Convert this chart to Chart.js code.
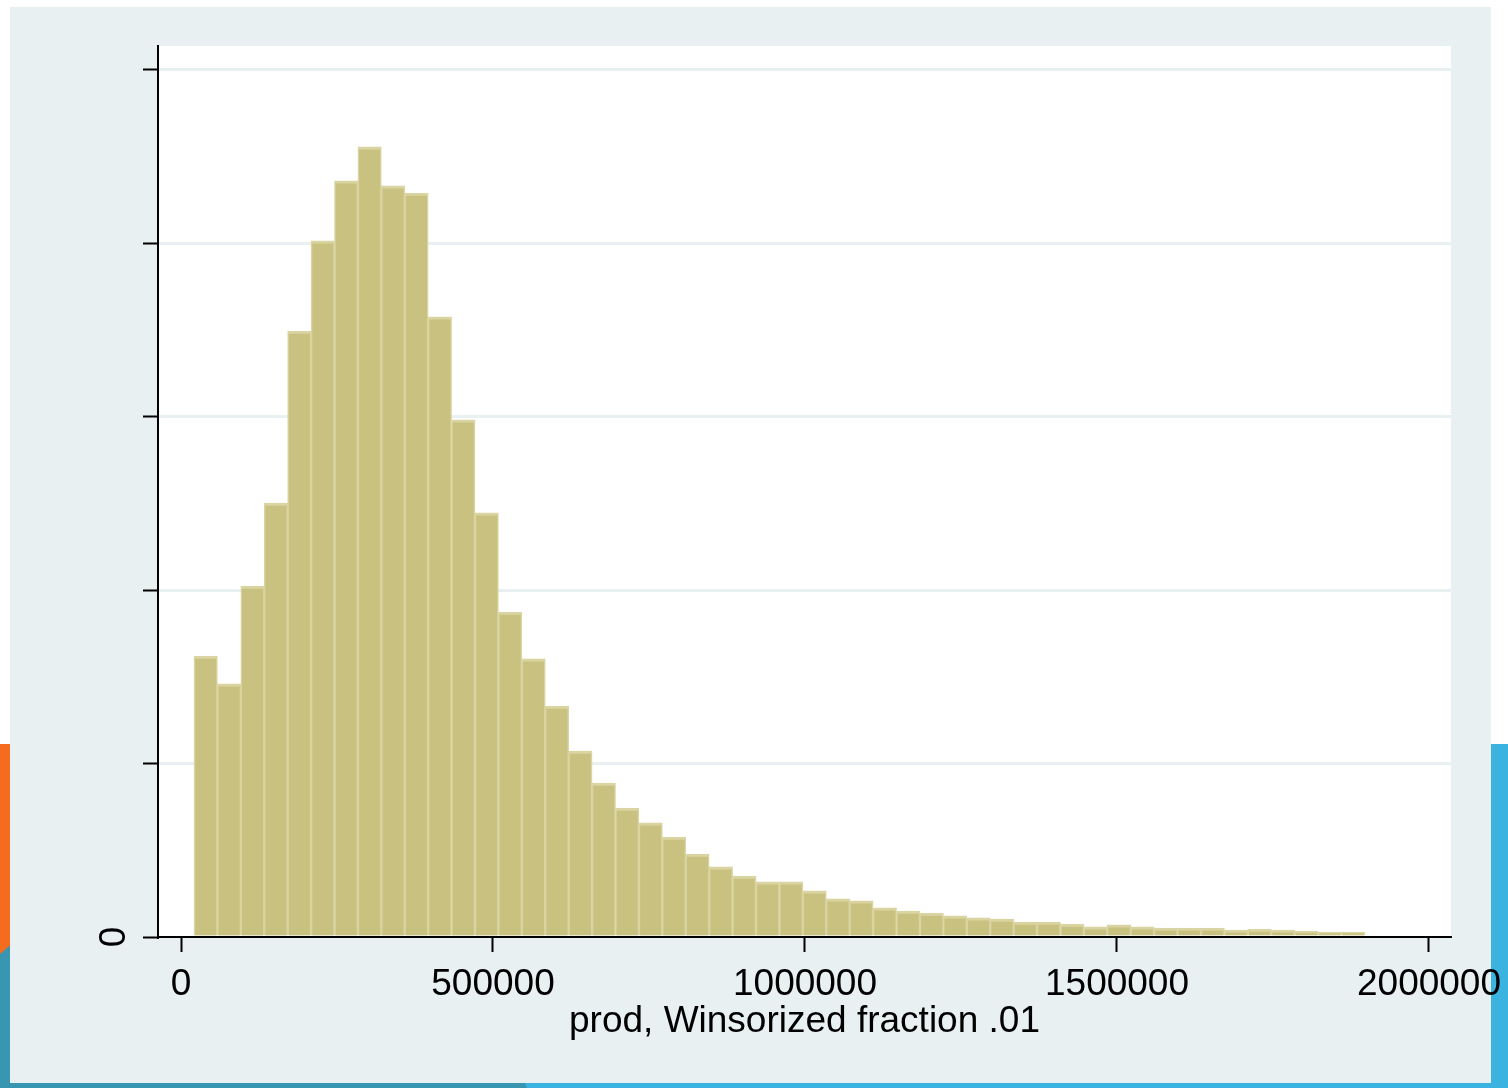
<!DOCTYPE html>
<html>
<head>
<meta charset="utf-8">
<script src="https://cdn.jsdelivr.net/npm/chart.js@4.4.1/dist/chart.umd.min.js"></script>
<style>
  html, body { margin:0; padding:0; background:#ffffff; width:1508px; height:1088px; overflow:hidden; }
  body { position:relative; }
  .abs { position:absolute; }
  #tealLeft { left:0; top:900px; width:10px; height:188px; background:#3996b0; }
  #orange { left:0; top:744px; width:10px; height:210px; background:#f56b20; clip-path:polygon(0 0,100% 0,100% 96%,0 100%); }
  #blueRight { left:1491px; top:744px; width:17px; height:344px; background:#3bb3e0; }
  #bottomBlue { left:520px; top:1083px; width:988px; height:5px; background:#3bb3e0; }
  #bottomTeal { left:0; top:1083px; width:527px; height:5px; background:#3996b0; clip-path:polygon(0 0,525px 0,527px 100%,0 100%); }
  #panel { left:10px; top:7px; width:1481px; height:1076px; background:#e8f0f2; }
  #chart { position:absolute; left:0; top:0; }
</style>
</head>
<body>
<div id="tealLeft" class="abs"></div>
<div id="orange" class="abs"></div>
<div id="blueRight" class="abs"></div>
<div id="bottomBlue" class="abs"></div>
<div id="bottomTeal" class="abs"></div>
<div id="panel" class="abs"></div>
<canvas id="chart" width="1508" height="1088"></canvas>
<script>
// Histogram of prod (Winsorized fraction .01): 50 bins, density in units of 1e-6
const binStart = 20800;      // left edge of first bin
const binWidth = 37530;      // width of each bin
const density = [
  0.810, 0.730, 1.012, 1.251, 1.747, 2.007, 2.180, 2.278, 2.166, 2.145,
  1.788, 1.491, 1.223, 0.937, 0.802, 0.666, 0.536, 0.444, 0.372, 0.329,
  0.288, 0.239, 0.202, 0.176, 0.159, 0.159, 0.133, 0.110, 0.104, 0.084,
  0.075, 0.069, 0.061, 0.055, 0.052, 0.043, 0.043, 0.037, 0.029, 0.035,
  0.029, 0.026, 0.026, 0.026, 0.020, 0.023, 0.020, 0.017, 0.014, 0.014
];
const xTickValues = [0, 500000, 1000000, 1500000, 2000000];
const yTickValues = [0, 0.5, 1, 1.5, 2, 2.5];
const xTitle = 'prod, Winsorized fraction .01';

const points = density.map((d, i) => ({ x: binStart + (i + 0.5) * binWidth, y: d }));

const FONT = { family: '"Liberation Sans", Arial, Helvetica, sans-serif', size: 37 };

const plotBg = {
  id: 'plotBg',
  beforeDraw(chart) {
    const { ctx, chartArea: a } = chart;
    ctx.save();
    ctx.fillStyle = '#ffffff';
    ctx.fillRect(a.left, a.top, a.right - a.left, a.bottom - a.top);
    ctx.restore();
  }
};

new Chart(document.getElementById('chart'), {
  type: 'bar',
  data: {
    datasets: [{
      data: points,
      backgroundColor: '#c9c17f',
      borderColor: '#d9d4a1',
      borderWidth: { top: 3, left: 1.5, right: 1.5, bottom: 0 },
      borderSkipped: 'start',
      barPercentage: 1,
      categoryPercentage: 1
    }]
  },
  options: {
    responsive: false,
    devicePixelRatio: 1,
    animation: false,
    layout: { padding: { left: 0, top: 46, right: 57, bottom: 0 } },
    plugins: { legend: { display: false }, tooltip: { enabled: false } },
    scales: {
      x: {
        type: 'linear',
        offset: false,
        min: -36860,
        max: 2035260,
        afterBuildTicks: s => { s.ticks = xTickValues.map(v => ({ value: v })); },
        afterFit: s => { s.height = 151; s.paddingLeft = 0; s.paddingRight = 0; },
        grid: { offset: false, drawOnChartArea: false, drawTicks: true, tickLength: 15, tickColor: '#000', tickWidth: 2 },
        border: { display: true, color: '#000', width: 2 },
        ticks: { color: '#000', font: FONT, padding: 11, maxRotation: 0, minRotation: 0, autoSkip: false,
                 callback: v => String(v) },
        title: { display: true, text: xTitle, color: '#000', font: FONT, padding: { top: 0, bottom: 44 } }
      },
      y: {
        type: 'linear',
        min: 0,
        max: 2.569,
        afterBuildTicks: s => { s.ticks = yTickValues.map(v => ({ value: v })); },
        afterFit: s => { s.width = 158; s.paddingTop = 0; s.paddingBottom = 0; },
        grid: {
          color: c => (c.tick && c.tick.value === 0) ? 'rgba(0,0,0,0)' : '#e8f0f2',
          lineWidth: 3, drawTicks: true, tickLength: 15, tickColor: '#000', tickWidth: 2
        },
        border: { display: true, color: '#000', width: 2 },
        ticks: { color: '#000', font: FONT, padding: 18, minRotation: 90, maxRotation: 90,
                 crossAlign: 'center', autoSkip: false,
                 callback: v => (v === 0 ? '0' : '') }
      }
    }
  },
  plugins: [plotBg]
});
</script>
</body>
</html>
